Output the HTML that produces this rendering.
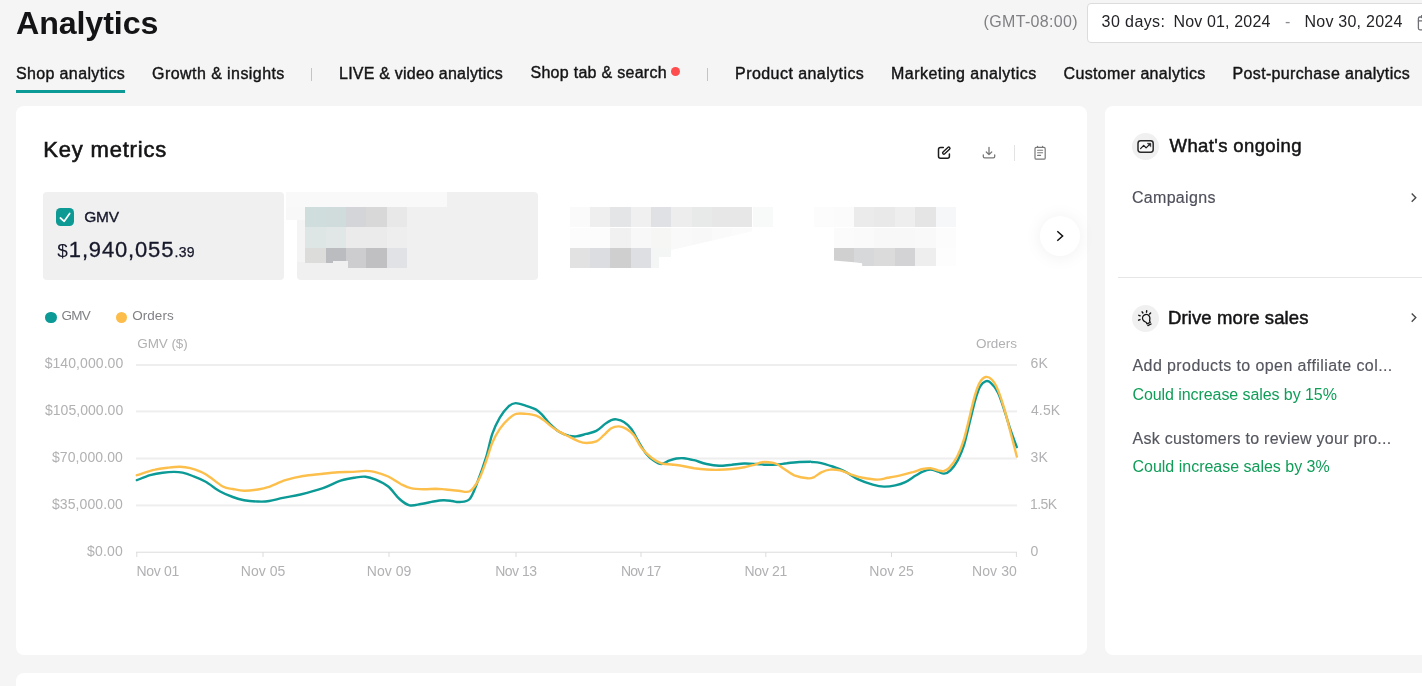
<!DOCTYPE html>
<html lang="en"><head><meta charset="utf-8"><title>Analytics</title>
<style>
html,body{margin:0;padding:0}
body{width:1422px;height:686px;overflow:hidden;background:#f5f5f5;position:relative;font-family:"Liberation Sans",Arial,sans-serif}
.abs{position:absolute;display:block}
.t{position:absolute;white-space:nowrap;line-height:normal}
.card{position:absolute;background:#fff;border-radius:8px}
</style></head><body>
<div class="card" style="left:16px;top:106px;width:1071px;height:549px"></div>
<div class="card" style="left:1105px;top:106px;width:340px;height:549px"></div>
<div class="card" style="left:16px;top:672.5px;width:1440px;height:40px"></div>
<div class="abs" style="left:16px;top:90px;width:109px;height:3px;background:#0b9a95"></div>
<div class="abs" style="left:311px;top:68px;width:1px;height:13px;background:#c4c4c6"></div>
<div class="abs" style="left:707px;top:68px;width:1px;height:13px;background:#c4c4c6"></div>
<div class="abs" style="left:671px;top:67px;width:9px;height:9px;border-radius:50%;background:#ff4c4c"></div>
<div class="abs" style="left:1087px;top:3px;width:360px;height:38px;border:1px solid #dcdcde;border-radius:4px;background:#fff"></div>
<div class="abs" style="left:43px;top:192px;width:241px;height:88px;border-radius:4px;background:#f0f0f0"></div>
<div class="abs" style="left:297px;top:192px;width:241px;height:88px;border-radius:4px;background:#f0f0f0"></div>
<i class="abs" style="left:285.5px;top:191.6px;width:161.6px;height:15.2px;background:#f9f9f9;"></i>
<i class="abs" style="left:285.5px;top:206.7px;width:19.5px;height:13.7px;background:#f8f8f8;"></i>
<i class="abs" style="left:297.0px;top:220.4px;width:8.0px;height:42.0px;background:#f4f4f4;"></i>
<i class="abs" style="left:305.0px;top:206.7px;width:20.5px;height:20.5px;background:#cfdddc;"></i>
<i class="abs" style="left:325.5px;top:206.7px;width:20.5px;height:20.5px;background:#d0dcdb;"></i>
<i class="abs" style="left:346.0px;top:206.7px;width:20.1px;height:20.5px;background:#d4d5d8;"></i>
<i class="abs" style="left:366.1px;top:206.7px;width:20.5px;height:20.5px;background:#d8d8d8;"></i>
<i class="abs" style="left:386.6px;top:206.7px;width:20.0px;height:20.5px;background:#e8e8e8;"></i>
<i class="abs" style="left:305.0px;top:227.2px;width:20.5px;height:20.5px;background:#dde6e5;"></i>
<i class="abs" style="left:325.5px;top:227.2px;width:20.5px;height:20.5px;background:#e0e7e6;"></i>
<i class="abs" style="left:346.0px;top:227.2px;width:20.1px;height:20.5px;background:#ebebeb;"></i>
<i class="abs" style="left:366.1px;top:227.2px;width:20.5px;height:20.5px;background:#ebebeb;"></i>
<i class="abs" style="left:386.6px;top:227.2px;width:20.0px;height:20.5px;background:#eeeeee;"></i>
<i class="abs" style="left:305.0px;top:247.7px;width:20.5px;height:20.5px;background:#dcdcda;"></i>
<i class="abs" style="left:325.5px;top:247.7px;width:20.5px;height:20.5px;background:#bbbcc0;"></i>
<i class="abs" style="left:346.0px;top:247.7px;width:20.1px;height:20.5px;background:#cdcdd0;"></i>
<i class="abs" style="left:366.1px;top:247.7px;width:20.5px;height:20.5px;background:#c0c0c3;"></i>
<i class="abs" style="left:386.6px;top:247.7px;width:20.0px;height:20.5px;background:#e1e2e6;"></i>
<i class="abs" style="left:297.0px;top:263.0px;width:51.0px;height:6.0px;background:#f0f0f0;"></i>
<i class="abs" style="left:333.0px;top:260.5px;width:15.0px;height:3.0px;background:#f0f0f0;"></i>
<i class="abs" style="left:569.9px;top:206.8px;width:20.1px;height:20.7px;background:#fafafa;"></i>
<i class="abs" style="left:590.0px;top:206.8px;width:20.3px;height:20.7px;background:#efefef;"></i>
<i class="abs" style="left:610.3px;top:206.8px;width:20.4px;height:20.7px;background:#e4e5e7;"></i>
<i class="abs" style="left:630.7px;top:206.8px;width:20.2px;height:20.7px;background:#f0f0f0;"></i>
<i class="abs" style="left:650.9px;top:206.8px;width:20.3px;height:20.7px;background:#e0e1e4;"></i>
<i class="abs" style="left:671.2px;top:206.8px;width:20.6px;height:20.7px;background:#ededed;"></i>
<i class="abs" style="left:691.8px;top:206.8px;width:20.2px;height:20.7px;background:#e8e9e9;"></i>
<i class="abs" style="left:712.0px;top:206.8px;width:20.3px;height:20.7px;background:#e7e7e7;"></i>
<i class="abs" style="left:732.3px;top:206.8px;width:20.2px;height:20.7px;background:#e7e7e7;"></i>
<i class="abs" style="left:752.5px;top:206.8px;width:20.6px;height:20.7px;background:#f8f9f9;"></i>
<i class="abs" style="left:569.9px;top:227.5px;width:182.6px;height:22.5px;clip-path:polygon(0 0,100% 0,100% 17%,55.6% 100%,0 100%)">
<i class="abs" style="left:0.0px;top:0;width:20.1px;height:22.5px;background:#fcfcfc"></i>
<i class="abs" style="left:20.1px;top:0;width:20.3px;height:22.5px;background:#fcfcfc"></i>
<i class="abs" style="left:40.4px;top:0;width:20.4px;height:22.5px;background:#f1f1f1"></i>
<i class="abs" style="left:60.8px;top:0;width:20.2px;height:22.5px;background:#f8f8f8"></i>
<i class="abs" style="left:81.0px;top:0;width:20.3px;height:22.5px;background:#f6f6f4"></i>
<i class="abs" style="left:101.3px;top:0;width:20.6px;height:22.5px;background:#f8f9f8"></i>
<i class="abs" style="left:121.9px;top:0;width:20.2px;height:22.5px;background:#f8f8f8"></i>
<i class="abs" style="left:142.1px;top:0;width:20.3px;height:22.5px;background:#fafafa"></i>
<i class="abs" style="left:162.4px;top:0;width:20.2px;height:22.5px;background:#fbfbfb"></i>
</i>
<i class="abs" style="left:569.9px;top:248.1px;width:20.1px;height:19.8px;background:#e2e2e2;"></i>
<i class="abs" style="left:590.0px;top:248.1px;width:20.3px;height:19.8px;background:#dcdde0;"></i>
<i class="abs" style="left:610.3px;top:248.1px;width:20.4px;height:19.8px;background:#cfcfd0;"></i>
<i class="abs" style="left:630.7px;top:248.1px;width:20.2px;height:19.8px;background:#dedfe2;"></i>
<i class="abs" style="left:650.9px;top:248.1px;width:8.0px;height:19.8px;background:#f4f5f5;"></i>
<i class="abs" style="left:658.9px;top:248.1px;width:12.3px;height:8.5px;background:#f4f5f5;"></i>
<i class="abs" style="left:813.5px;top:206.8px;width:20.3px;height:20.7px;background:#fcfcfc;"></i>
<i class="abs" style="left:833.8px;top:206.8px;width:20.2px;height:20.7px;background:#fbfbfb;"></i>
<i class="abs" style="left:854.0px;top:206.8px;width:20.3px;height:20.7px;background:#ebebeb;"></i>
<i class="abs" style="left:874.3px;top:206.8px;width:20.6px;height:20.7px;background:#e9e9e9;"></i>
<i class="abs" style="left:894.9px;top:206.8px;width:20.4px;height:20.7px;background:#eeeeee;"></i>
<i class="abs" style="left:915.3px;top:206.8px;width:20.6px;height:20.7px;background:#e5e5e5;"></i>
<i class="abs" style="left:935.9px;top:206.8px;width:20.2px;height:20.7px;background:#f6f7f9;"></i>
<i class="abs" style="left:833.8px;top:227.5px;width:20.2px;height:20.6px;background:#fbfbfb;"></i>
<i class="abs" style="left:854.0px;top:227.5px;width:20.3px;height:20.6px;background:#fafafa;"></i>
<i class="abs" style="left:874.3px;top:227.5px;width:20.6px;height:20.6px;background:#f8f8f8;"></i>
<i class="abs" style="left:894.9px;top:227.5px;width:20.4px;height:20.6px;background:#f8f8f8;"></i>
<i class="abs" style="left:915.3px;top:227.5px;width:20.6px;height:20.6px;background:#f9f9f9;"></i>
<i class="abs" style="left:935.9px;top:227.5px;width:20.2px;height:20.6px;background:#fcfcfc;"></i>
<i class="abs" style="left:833.8px;top:248.1px;width:20.2px;height:17.8px;background:#d0d0d1;clip-path:polygon(0 0,100% 0,100% 80%,0 70%)"></i>
<i class="abs" style="left:854.0px;top:248.1px;width:20.3px;height:17.8px;background:#d7d8da;clip-path:polygon(0 0,100% 0,100% 100%,40% 100%,40% 85%,0 80%)"></i>
<i class="abs" style="left:874.3px;top:248.1px;width:20.6px;height:17.8px;background:#dbdbdc;"></i>
<i class="abs" style="left:894.9px;top:248.1px;width:20.4px;height:17.8px;background:#d3d3d6;"></i>
<i class="abs" style="left:915.3px;top:248.1px;width:20.6px;height:17.8px;background:#eeeeee;"></i>
<i class="abs" style="left:935.9px;top:248.1px;width:20.2px;height:17.8px;background:#fdfdfd;"></i>
<div class="abs" style="left:56px;top:208px;width:18px;height:18px;border-radius:4.5px;background:#0d9a94"></div>
<div class="abs" style="left:45px;top:311.6px;width:11.6px;height:11.6px;border-radius:50%;background:#0b9a95"></div>
<div class="abs" style="left:115.6px;top:311.6px;width:11.6px;height:11.6px;border-radius:50%;background:#fdbd4a"></div>
<div class="abs" style="left:1040px;top:216px;width:40px;height:40px;border-radius:50%;background:#fff;box-shadow:0 1px 18px rgba(0,0,0,.065)"></div>
<div class="abs" style="left:1014px;top:145px;width:1px;height:16px;background:#e3e3e5"></div>
<div class="abs" style="left:1132px;top:133px;width:27px;height:27px;border-radius:50%;background:#f0f0f0"></div>
<div class="abs" style="left:1132px;top:305px;width:27px;height:27px;border-radius:50%;background:#f0f0f0"></div>
<div class="abs" style="left:1118px;top:277px;width:320px;height:1px;background:#e6e6e8"></div>
<svg class="abs" style="left:0;top:0" width="1422" height="686" viewBox="0 0 1422 686" fill="none">
<rect x="136" y="364.0" width="881" height="2" fill="#eeeeee"/>
<rect x="136" y="410.4" width="881" height="2" fill="#eeeeee"/>
<rect x="136" y="457.5" width="881" height="2" fill="#eeeeee"/>
<rect x="136" y="504.4" width="881" height="2" fill="#eeeeee"/>
<rect x="136" y="551.7" width="881" height="1" fill="#dcdcdc"/>
<rect x="136.3" y="552" width="1" height="5" fill="#dcdcdc"/>
<rect x="262.5" y="552" width="1" height="5" fill="#dcdcdc"/>
<rect x="388.5" y="552" width="1" height="5" fill="#dcdcdc"/>
<rect x="515.5" y="552" width="1" height="5" fill="#dcdcdc"/>
<rect x="640.5" y="552" width="1" height="5" fill="#dcdcdc"/>
<rect x="765.3" y="552" width="1" height="5" fill="#dcdcdc"/>
<rect x="891.0" y="552" width="1" height="5" fill="#dcdcdc"/>
<rect x="1015.9" y="552" width="1" height="5" fill="#dcdcdc"/>
<path d="M136.8,480.2C139.0,479.4 145.8,476.5 150.1,475.2C154.4,474.0 158.6,473.2 162.6,472.7C166.6,472.2 170.5,471.9 173.9,471.9C177.2,471.9 179.5,472.0 182.6,472.7C185.8,473.4 188.9,474.5 192.7,476.0C196.4,477.4 200.6,478.9 205.2,481.5C209.8,484.1 215.7,488.9 220.2,491.5C224.8,494.1 228.8,495.6 232.8,497.0C236.8,498.5 239.9,499.5 244.1,500.3C248.2,501.0 253.7,501.4 257.9,501.5C262.0,501.7 265.0,501.7 269.1,501.0C273.3,500.4 277.7,498.9 282.9,497.8C288.1,496.7 293.8,496.1 300.5,494.5C307.2,492.9 316.3,490.5 323.0,488.2C329.7,485.9 335.1,482.5 340.6,480.7C346.0,478.9 351.4,478.1 355.6,477.5C359.8,476.8 362.3,476.3 365.6,476.7C369.0,477.1 371.9,478.1 375.7,479.7C379.4,481.3 384.2,483.3 388.2,486.5C392.2,489.7 395.9,495.9 399.5,499.0C403.0,502.2 406.0,504.5 409.5,505.3C413.1,506.1 416.8,504.7 420.8,504.0C424.8,503.4 429.6,502.2 433.3,501.5C437.1,500.9 440.2,500.4 443.4,500.3C446.5,500.2 449.4,500.7 452.1,501.0C454.9,501.3 456.7,502.4 459.7,502.0C462.6,501.7 466.8,502.2 469.7,499.0C472.6,495.8 474.5,489.6 477.2,482.7C479.9,475.8 483.5,465.9 486.0,457.7C488.5,449.6 490.0,440.6 492.3,433.9C494.6,427.2 497.1,422.2 499.8,417.6C502.5,413.0 505.9,408.8 508.6,406.3C511.2,403.9 512.7,403.2 515.6,403.1C518.5,403.0 522.7,404.8 526.1,405.8C529.5,406.9 533.4,408.1 536.1,409.6C538.9,411.2 540.1,412.7 542.4,415.1C544.7,417.5 547.2,421.2 549.9,423.9C552.6,426.6 555.6,429.5 558.7,431.4C561.8,433.4 565.8,434.8 568.7,435.7C571.7,436.5 573.3,436.7 576.2,436.4C579.2,436.1 582.9,434.8 586.3,433.9C589.6,433.0 593.2,432.6 596.3,430.9C599.4,429.2 602.6,425.7 605.1,423.9C607.6,422.1 609.5,420.9 611.3,420.1C613.2,419.4 614.3,419.1 616.4,419.4C618.4,419.7 621.4,420.3 623.9,421.9C626.4,423.5 629.1,425.9 631.4,428.9C633.7,432.0 635.2,436.0 637.7,440.2C640.2,444.4 643.7,450.6 646.4,454.0C649.2,457.4 651.5,459.1 654.0,460.7C656.5,462.4 659.0,464.0 661.5,464.0C664.0,464.0 666.5,461.7 669.0,460.7C671.5,459.8 674.0,458.9 676.5,458.5C679.0,458.1 681.1,458.0 684.0,458.2C687.0,458.5 690.3,459.3 694.1,460.2C697.8,461.2 702.4,463.1 706.6,464.0C710.8,464.9 715.0,465.6 719.1,465.8C723.3,465.9 727.5,465.1 731.7,464.8C735.9,464.4 740.0,463.6 744.2,463.5C748.4,463.4 753.0,463.8 756.7,464.0C760.5,464.2 763.4,464.7 766.8,464.8C770.1,464.8 773.5,464.8 776.8,464.5C780.1,464.3 783.1,463.7 786.8,463.3C790.6,462.8 795.5,462.2 799.4,462.0C803.2,461.8 807.9,461.8 810.0,461.8C812.1,461.8 810.2,461.8 811.9,462.0C813.6,462.2 816.6,462.0 820.1,462.8C823.5,463.5 828.4,465.1 832.6,466.5C836.8,468.0 840.9,469.5 845.1,471.6C849.3,473.6 853.1,476.9 857.7,479.1C862.3,481.3 868.3,483.3 872.7,484.6C877.1,485.8 880.2,486.5 884.0,486.6C887.7,486.7 891.7,486.1 895.3,485.3C898.8,484.6 901.9,483.7 905.3,482.1C908.6,480.5 912.4,477.6 915.3,475.8C918.2,474.1 920.3,472.6 922.8,471.6C925.3,470.5 927.9,469.6 930.4,469.6C932.9,469.6 935.6,470.9 937.9,471.6C940.2,472.2 942.1,473.8 944.1,473.6C946.2,473.4 948.2,472.5 950.4,470.3C952.7,468.1 955.4,464.5 957.7,460.3C959.9,456.1 961.9,451.9 964.0,445.2C966.0,438.5 968.3,427.7 970.2,420.2C972.1,412.6 973.6,405.8 975.2,400.1C976.9,394.5 978.5,389.5 980.2,386.3C982.0,383.2 983.8,381.9 985.5,381.3C987.2,380.7 988.4,380.7 990.5,382.6C992.6,384.4 995.7,388.0 998.0,392.6C1000.3,397.2 1002.2,403.9 1004.3,410.1C1006.4,416.4 1008.5,424.0 1010.6,430.2C1012.7,436.4 1015.8,444.4 1016.8,447.2" stroke="#0b9a95" stroke-width="2.4" stroke-linecap="round" stroke-linejoin="round"/>
<path d="M136.8,475.2C139.8,474.3 149.9,470.9 155.1,469.7C160.2,468.4 163.4,468.2 167.6,467.7C171.8,467.2 176.4,466.6 180.1,466.7C183.9,466.8 186.0,467.0 190.2,468.2C194.3,469.4 199.8,470.9 205.2,474.0C210.6,477.0 218.2,484.0 222.8,486.5C227.4,489.0 229.2,488.3 232.8,489.0C236.3,489.7 239.9,490.7 244.1,490.7C248.2,490.8 253.9,490.1 257.9,489.5C261.8,488.9 263.3,488.8 267.9,487.2C272.5,485.7 279.6,482.1 285.4,480.2C291.3,478.3 297.1,477.0 303.0,476.0C308.8,474.9 314.7,474.6 320.5,474.0C326.4,473.3 332.6,472.5 338.1,472.2C343.5,471.9 348.5,472.2 353.1,471.9C357.7,471.7 362.1,470.9 365.6,470.9C369.2,470.9 370.7,471.0 374.4,471.9C378.2,472.9 383.8,474.5 388.2,476.5C392.6,478.5 397.0,482.0 400.7,484.0C404.5,485.9 407.0,487.4 410.8,488.2C414.5,489.1 419.1,489.2 423.3,489.2C427.5,489.3 432.1,488.7 435.8,488.7C439.6,488.8 442.1,489.2 445.9,489.5C449.6,489.8 454.4,490.5 458.4,490.7C462.4,491.0 466.3,493.0 469.7,491.3C473.0,489.5 475.7,485.2 478.5,480.2C481.2,475.3 483.7,467.8 486.0,461.5C488.3,455.2 490.0,448.1 492.3,442.7C494.6,437.3 497.1,432.9 499.8,428.9C502.5,424.9 505.8,421.4 508.6,418.9C511.3,416.4 513.2,414.7 516.1,413.9C519.0,413.0 522.8,413.6 526.1,413.9C529.5,414.2 533.2,414.6 536.1,415.6C539.1,416.7 541.2,418.3 543.7,420.1C546.2,421.9 548.7,424.5 551.2,426.4C553.7,428.3 555.8,429.7 558.7,431.4C561.6,433.1 565.4,434.8 568.7,436.4C572.1,438.1 575.8,440.4 578.8,441.4C581.7,442.5 583.4,443.0 586.3,443.0C589.2,443.0 593.4,442.7 596.3,441.4C599.2,440.2 601.3,437.4 603.8,435.2C606.3,433.0 608.8,429.6 611.3,428.2C613.9,426.7 616.4,426.3 618.9,426.4C621.4,426.5 623.9,427.4 626.4,428.9C628.9,430.4 631.4,432.0 633.9,435.2C636.4,438.3 638.5,444.0 641.4,447.7C644.4,451.5 648.1,455.2 651.5,457.7C654.8,460.3 658.1,462.1 661.5,463.3C664.8,464.4 668.2,464.1 671.5,464.5C674.9,464.9 677.8,465.1 681.5,465.8C685.3,466.4 689.9,467.6 694.1,468.3C698.3,468.9 702.4,469.3 706.6,469.5C710.8,469.8 715.0,469.9 719.1,469.8C723.3,469.7 727.5,469.4 731.7,469.0C735.9,468.6 740.4,468.0 744.2,467.3C748.0,466.6 751.3,465.6 754.2,464.8C757.2,463.9 759.3,462.7 761.8,462.3C764.3,461.8 766.8,462.0 769.3,462.3C771.8,462.5 774.3,462.9 776.8,464.0C779.3,465.1 781.4,467.1 784.3,469.0C787.2,470.9 790.5,473.7 794.3,475.3C798.2,476.8 804.3,478.0 807.5,478.3C810.8,478.7 811.5,478.3 813.8,477.3C816.1,476.3 818.6,473.6 821.3,472.3C824.0,471.0 826.9,469.9 830.1,469.6C833.2,469.2 836.8,469.6 840.1,470.3C843.5,471.1 846.4,472.8 850.1,474.1C853.9,475.3 858.1,476.9 862.7,477.8C867.3,478.7 873.5,479.6 877.7,479.6C881.9,479.6 884.0,478.5 887.7,477.8C891.5,477.1 896.1,476.3 900.3,475.3C904.5,474.4 909.0,473.1 912.8,472.1C916.6,471.0 919.9,469.7 922.8,469.0C925.8,468.4 927.9,468.1 930.4,468.3C932.9,468.5 935.7,469.8 937.9,470.3C940.1,470.8 941.5,471.5 943.4,471.1C945.3,470.6 946.9,470.2 949.2,467.8C951.5,465.4 954.8,461.1 957.2,456.5C959.6,451.9 961.6,447.1 963.7,440.2C965.8,433.3 968.1,422.7 970.0,415.2C971.8,407.6 973.4,400.5 975.0,395.1C976.6,389.7 978.0,385.6 979.7,382.6C981.5,379.6 983.5,377.5 985.5,377.0C987.5,376.5 989.7,377.4 991.8,379.6C993.9,381.7 996.0,385.2 998.0,390.1C1000.1,395.0 1002.2,401.8 1004.3,408.9C1006.4,416.0 1008.5,424.8 1010.6,432.7C1012.7,440.6 1015.8,452.5 1016.8,456.5" stroke="#fdbf4b" stroke-width="2.4" stroke-linecap="round" stroke-linejoin="round"/>
</svg>
<svg class="abs" style="left:0;top:0" width="1422" height="686" viewBox="0 0 1422 686" fill="none" stroke-linecap="round" stroke-linejoin="round">
<!-- checkbox tick -->
<path d="M60.4 218 L64.2 221.3 L69.7 213.4" stroke="#fff" stroke-width="1.7"/>
<!-- next chevron -->
<path d="M1057.3 231.2 L1062.6 236 L1057.3 240.8" stroke="#111" stroke-width="1.5" stroke-linecap="butt" stroke-linejoin="miter"/>
<!-- right panel chevrons -->
<path d="M1411.7 193.6 L1415.8 197.7 L1411.7 201.8" stroke="#48484c" stroke-width="1.35" stroke-linecap="butt" stroke-linejoin="miter"/>
<path d="M1411.7 313.5 L1415.8 317.6 L1411.7 321.7" stroke="#48484c" stroke-width="1.35" stroke-linecap="butt" stroke-linejoin="miter"/>
<!-- edit icon -->
<g stroke="#1c1c1e" stroke-width="1.5">
<path d="M943.3 147.4 H940.5 Q938.5 147.4 938.5 149.4 V156.2 Q938.5 158.2 940.5 158.2 H947.4 Q949.4 158.2 949.4 156.2 V154"/>
<path d="M943.9 152.9 L948.7 148.4" stroke-width="3.9"/>
<path d="M943.9 152.9 L948.7 148.4" stroke="#fff" stroke-width="1.1"/>
</g>
<!-- download icon -->
<g stroke="#787878" stroke-width="1.3">
<path d="M989 147.3 V154.2 M986.3 152 L989 154.6 L991.7 152"/>
<path d="M983.3 154.8 V156.5 Q983.3 157.8 984.6 157.8 H993.4 Q994.7 157.8 994.7 156.5 V154.8"/>
</g>
<!-- clipboard icon -->
<g stroke="#787878" stroke-width="1.2">
<rect x="1035" y="147.4" width="10.2" height="11.8" rx="1.3"/>
<path d="M1037.6 146.3 V147.4 M1042.6 146.3 V147.4"/>
<path d="M1037.6 150.3 H1042.6 M1037.6 152.8 H1042.6 M1037.6 155.4 H1040.6" stroke-width="1.1"/>
</g>
<!-- trend icon -->
<rect x="1138" y="140.8" width="15.2" height="11.4" rx="2.6" stroke="#2a2a2c" stroke-width="1.5" fill="#f9f9f9"/>
<path d="M1140.6 148.6 L1143.7 145.4 L1146.1 147.9 L1149.4 144.6" stroke="#1c1c1e" stroke-width="1.25"/>
<path d="M1147.5 143.3 H1150.8 V146.6 Z" fill="#1c1c1e" stroke="#1c1c1e" stroke-width=".5"/>
<!-- bulb icon -->
<g stroke="#111" stroke-width="1.4">
<g transform="translate(1146.2 318.1) rotate(-26) scale(.94)">
<path d="M-1.9 5.9 V4.6 C-1.9 3.6 -3.9 2.6 -3.9 0 A3.9 3.9 0 0 1 3.9 0 C3.9 2.6 1.9 3.6 1.9 4.6 V5.9 Z"/>
<path d="M-1.9 7.9 H1.9"/>
</g>
<path d="M1140.2 315.8 L1138.8 315.3 M1140 319.6 L1138.6 320.2 M1142.9 313 L1142.1 311.8 M1146.5 312.2 L1146.7 310.8 M1149.6 313.9 L1150.6 312.9"/>
</g>
<!-- calendar icon (clipped at right edge) -->
<g stroke="#6e6f74" stroke-width="1.3">
<rect x="1418.4" y="17" width="13" height="12.8" rx="1.5"/>
<path d="M1418.4 20.9 H1431 M1421.6 15.6 V17.6"/>
</g>
</svg>

<span id="t_title" class="t" style="left:16.00px;top:4.8px;font-size:32.2px;font-weight:700;color:#141416;letter-spacing:-0.094px;">Analytics</span>
<span id="t_tab1" class="t" style="left:15.96px;top:65.0px;font-size:16px;font-weight:400;color:#141416;letter-spacing:0.368px;-webkit-text-stroke:.4px #141416;">Shop analytics</span>
<span id="t_tab2" class="t" style="left:152.12px;top:65.0px;font-size:16px;font-weight:400;color:#141416;letter-spacing:0.430px;-webkit-text-stroke:.4px #141416;">Growth &amp; insights</span>
<span id="t_tab3" class="t" style="left:339.10px;top:65.0px;font-size:16px;font-weight:400;color:#141416;letter-spacing:0.212px;-webkit-text-stroke:.4px #141416;">LIVE &amp; video analytics</span>
<span id="t_tab4" class="t" style="left:530.46px;top:64.0px;font-size:16px;font-weight:400;color:#141416;letter-spacing:0.286px;-webkit-text-stroke:.4px #141416;">Shop tab &amp; search</span>
<span id="t_tab5" class="t" style="left:735.10px;top:65.0px;font-size:16px;font-weight:400;color:#141416;letter-spacing:0.432px;-webkit-text-stroke:.4px #141416;">Product analytics</span>
<span id="t_tab6" class="t" style="left:891.10px;top:65.0px;font-size:16px;font-weight:400;color:#141416;letter-spacing:0.452px;-webkit-text-stroke:.4px #141416;">Marketing analytics</span>
<span id="t_tab7" class="t" style="left:1063.62px;top:65.0px;font-size:16px;font-weight:400;color:#141416;letter-spacing:0.331px;-webkit-text-stroke:.4px #141416;">Customer analytics</span>
<span id="t_tab8" class="t" style="left:1232.60px;top:65.0px;font-size:16px;font-weight:400;color:#141416;letter-spacing:0.337px;-webkit-text-stroke:.4px #141416;">Post-purchase analytics</span>
<span id="t_gmt" class="t" style="left:983.60px;top:12.6px;font-size:16px;font-weight:400;color:#808084;letter-spacing:0.339px;">(GMT-08:00)</span>
<span id="t_d1" class="t" style="left:1101.60px;top:12.6px;font-size:16px;font-weight:400;color:#242428;letter-spacing:0.414px;">30 days:</span>
<span id="t_d2" class="t" style="left:1173.46px;top:12.6px;font-size:16px;font-weight:400;color:#242428;letter-spacing:0.154px;">Nov 01, 2024</span>
<span id="t_d3" class="t" style="left:1284.95px;top:12.6px;font-size:16px;font-weight:400;color:#8a8b91;letter-spacing:1.275px;">-</span>
<span id="t_d4" class="t" style="left:1304.46px;top:12.6px;font-size:16px;font-weight:400;color:#242428;letter-spacing:0.245px;">Nov 30, 2024</span>
<span id="t_km" class="t" style="left:43.19px;top:137.0px;font-size:22px;font-weight:400;color:#141416;letter-spacing:0.818px;-webkit-text-stroke:.6px #141416;">Key metrics</span>
<span id="t_gmv" class="t" style="left:84.32px;top:207.7px;font-size:15.5px;font-weight:400;color:#16182a;letter-spacing:-0.310px;-webkit-text-stroke:.35px #16182a;">GMV</span>
<span id="t_dol" class="t" style="left:57.26px;top:239.5px;font-size:19px;font-weight:400;color:#16182a;letter-spacing:-0.540px;">$</span>
<span id="t_val" class="t" style="left:68.87px;top:236.5px;font-size:22px;font-weight:400;color:#16182a;letter-spacing:0.829px;-webkit-text-stroke:.3px #16182a;">1,940,055</span>
<span id="t_cent" class="t" style="left:174.56px;top:244.0px;font-size:14px;font-weight:400;color:#16182a;letter-spacing:0.220px;-webkit-text-stroke:.25px #16182a;">.39</span>
<span id="t_lg1" class="t" style="left:61.46px;top:308.4px;font-size:13.5px;font-weight:400;color:#818286;letter-spacing:-0.782px;">GMV</span>
<span id="t_lg2" class="t" style="left:132.21px;top:308.4px;font-size:13.5px;font-weight:400;color:#818286;letter-spacing:0.052px;">Orders</span>
<span id="t_ax1" class="t" style="left:137.26px;top:335.8px;font-size:13.5px;font-weight:400;color:#b1b1b4;letter-spacing:-0.077px;">GMV ($)</span>
<span id="t_ax2" class="t" style="left:976.01px;top:335.8px;font-size:13.5px;font-weight:400;color:#b1b1b4;letter-spacing:-0.068px;">Orders</span>
<span id="t_wo" class="t" style="left:1169.60px;top:135.0px;font-size:18.5px;font-weight:400;color:#141416;letter-spacing:0.377px;-webkit-text-stroke:.5px #141416;">What's ongoing</span>
<span id="t_camp" class="t" style="left:1131.90px;top:188.7px;font-size:16px;font-weight:400;color:#4e4f5a;letter-spacing:0.320px;-webkit-text-stroke:.15px #4e4f5a;">Campaigns</span>
<span id="t_dms" class="t" style="left:1168.02px;top:307.0px;font-size:18.5px;font-weight:400;color:#141416;letter-spacing:0.111px;-webkit-text-stroke:.5px #141416;">Drive more sales</span>
<span id="t_s1" class="t" style="left:1132.54px;top:357.3px;font-size:16px;font-weight:400;color:#55565f;letter-spacing:0.404px;-webkit-text-stroke:.15px #55565f;">Add products to open affiliate col...</span>
<span id="t_s2" class="t" style="left:1132.50px;top:385.6px;font-size:16px;font-weight:400;color:#0f9d58;letter-spacing:-0.076px;">Could increase sales by 15%</span>
<span id="t_s3" class="t" style="left:1132.54px;top:429.6px;font-size:16px;font-weight:400;color:#55565f;letter-spacing:0.259px;-webkit-text-stroke:.15px #55565f;">Ask customers to review your pro...</span>
<span id="t_s4" class="t" style="left:1132.50px;top:457.5px;font-size:16px;font-weight:400;color:#0f9d58;letter-spacing:-0.008px;">Could increase sales by 3%</span>
<span id="t_yl0" class="t" style="left:44.65px;top:355.2px;font-size:14px;font-weight:400;color:#b1b1b4;letter-spacing:0.075px;">$140,000.00</span>
<span id="t_yl1" class="t" style="left:44.95px;top:401.6px;font-size:14px;font-weight:400;color:#b1b1b4;letter-spacing:0.045px;">$105,000.00</span>
<span id="t_yl2" class="t" style="left:51.95px;top:448.7px;font-size:14px;font-weight:400;color:#b1b1b4;letter-spacing:0.100px;">$70,000.00</span>
<span id="t_yl3" class="t" style="left:51.95px;top:495.6px;font-size:14px;font-weight:400;color:#b1b1b4;letter-spacing:0.100px;">$35,000.00</span>
<span id="t_yl4" class="t" style="left:87.05px;top:542.7px;font-size:14px;font-weight:400;color:#b1b1b4;letter-spacing:0.200px;">$0.00</span>
<span id="t_yr0" class="t" style="left:1030.41px;top:355.2px;font-size:14px;font-weight:400;color:#b1b1b4;letter-spacing:0.220px;">6K</span>
<span id="t_yr1" class="t" style="left:1030.93px;top:401.6px;font-size:14px;font-weight:400;color:#b1b1b4;letter-spacing:0.145px;">4.5K</span>
<span id="t_yr2" class="t" style="left:1030.47px;top:448.7px;font-size:14px;font-weight:400;color:#b1b1b4;letter-spacing:0.165px;">3K</span>
<span id="t_yr3" class="t" style="left:1030.10px;top:495.6px;font-size:14px;font-weight:400;color:#b1b1b4;letter-spacing:-0.610px;">1.5K</span>
<span id="t_yr4" class="t" style="left:1030.61px;top:542.7px;font-size:14px;font-weight:400;color:#b1b1b4;letter-spacing:0.890px;">0</span>
<span id="t_x0" class="t" style="left:136.40px;top:563.0px;font-size:14px;font-weight:400;color:#b1b1b4;letter-spacing:-0.272px;">Nov 01</span>
<span id="t_x1" class="t" style="left:240.85px;top:563.0px;font-size:14px;font-weight:400;color:#b1b1b4;letter-spacing:0.015px;">Nov 05</span>
<span id="t_x2" class="t" style="left:366.85px;top:563.0px;font-size:14px;font-weight:400;color:#b1b1b4;letter-spacing:0.034px;">Nov 09</span>
<span id="t_x3" class="t" style="left:495.20px;top:563.0px;font-size:14px;font-weight:400;color:#b1b1b4;letter-spacing:-0.506px;">Nov 13</span>
<span id="t_x4" class="t" style="left:620.90px;top:563.0px;font-size:14px;font-weight:400;color:#b1b1b4;letter-spacing:-0.784px;">Nov 17</span>
<span id="t_x5" class="t" style="left:744.60px;top:563.0px;font-size:14px;font-weight:400;color:#b1b1b4;letter-spacing:-0.352px;">Nov 21</span>
<span id="t_x6" class="t" style="left:869.30px;top:563.0px;font-size:14px;font-weight:400;color:#b1b1b4;letter-spacing:0.035px;">Nov 25</span>
<span id="t_x7" class="t" style="left:972.00px;top:563.0px;font-size:14px;font-weight:400;color:#b1b1b4;letter-spacing:0.089px;">Nov 30</span>
</body></html>
